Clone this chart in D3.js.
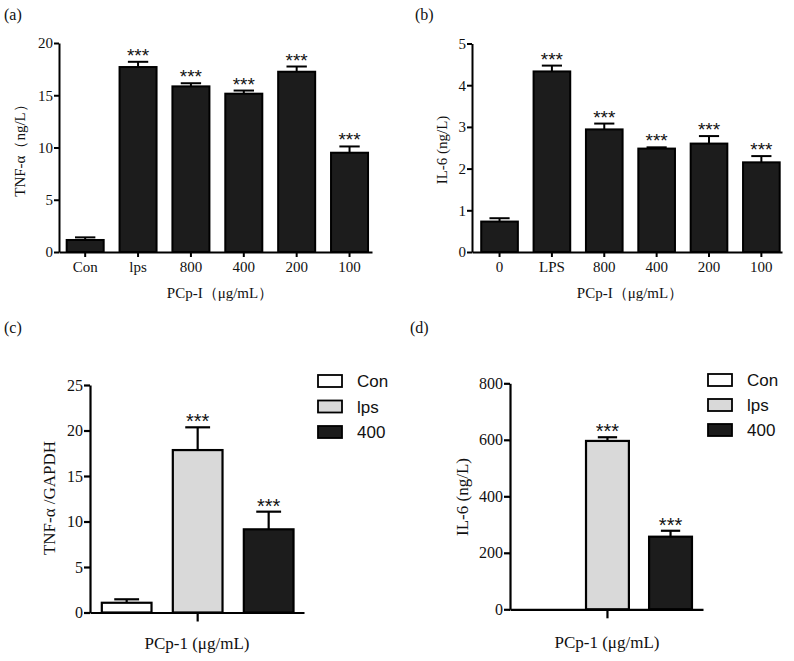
<!DOCTYPE html>
<html>
<head>
<meta charset="utf-8">
<script src="https://cdn.jsdelivr.net/npm/d3@7"></script>
<style>
  html, body { margin: 0; padding: 0; background: #fff; }
  svg { display: block; }
</style>
</head>
<body>
<svg id="chart" width="794" height="661"></svg>
<script>
// ---------- Data ----------
const catsA = ["Con", "lps", "800", "400", "200", "100"];
const valsA = [1.15, 17.7, 15.85, 15.15, 17.25, 9.5];
const errA  = [1.4, 18.2, 16.15, 15.45, 17.75, 10.1];
const sigA  = ["", "***", "***", "***", "***", "***"];
const ticksA = [0, 5, 10, 15, 20];

const catsB = ["0", "LPS", "800", "400", "200", "100"];
const valsB = [0.73, 4.33, 2.94, 2.48, 2.6, 2.15];
const errB  = [0.81, 4.47, 3.08, 2.51, 2.78, 2.3];
const sigB  = ["", "***", "***", "***", "***", "***"];
const ticksB = [0, 1, 2, 3, 4, 5];

const catsC = ["Con", "lps", "400"];
const valsC = [1.07, 17.85, 9.14];
const errC  = [1.45, 20.35, 11.08];
const sigC  = ["", "***", "***"];
const ticksC = [0, 5, 10, 15, 20, 25];

const catsD = ["Con", "lps", "400"];
const valsD = [0, 596, 257];
const errD  = [0, 609, 278];
const sigD  = ["", "***", "***"];
const ticksD = [0, 200, 400, 600, 800];

const legendFills = ["#ffffff", "#d9d9d9", "#1c1c1c"];

const SERIF = "'Liberation Serif', 'Times New Roman', Times, serif";
const SANS = "'Liberation Sans', Arial, Helvetica, sans-serif";

const svg = d3.select("#chart");

function panel(opts) {
  const g = svg.append("g");
  const x = d3.scaleBand().domain(opts.cats).range(opts.xr)
    .paddingInner(opts.pi).paddingOuter(opts.po).align(opts.align);
  const y = d3.scaleLinear().domain([0, opts.ymax]).range(opts.yr);
  const bw = x.bandwidth();

  // bars
  g.selectAll("rect.bar").data(opts.cats).join("rect")
    .attr("class", "bar")
    .attr("x", d => x(d))
    .attr("y", (d, i) => y(opts.vals[i]))
    .attr("width", bw)
    .attr("height", (d, i) => y(0) - y(opts.vals[i]))
    .attr("fill", (d, i) => opts.fills[i])
    .attr("stroke", "#000")
    .attr("stroke-width", opts.sw)
    .style("display", (d, i) => opts.vals[i] > 0 ? null : "none");

  // error bars (upper only)
  const eb = g.selectAll("g.err").data(opts.cats).join("g").attr("class", "err")
    .style("display", (d, i) => opts.errs[i] > opts.vals[i] ? null : "none");
  eb.append("line")
    .attr("x1", d => x(d) + bw / 2).attr("x2", d => x(d) + bw / 2)
    .attr("y1", (d, i) => y(opts.vals[i])).attr("y2", (d, i) => y(opts.errs[i]))
    .attr("stroke", "#000").attr("stroke-width", opts.sw);
  eb.append("line")
    .attr("x1", d => x(d) + bw / 2 - bw * opts.cap / 2)
    .attr("x2", d => x(d) + bw / 2 + bw * opts.cap / 2)
    .attr("y1", (d, i) => y(opts.errs[i])).attr("y2", (d, i) => y(opts.errs[i]))
    .attr("stroke", "#000").attr("stroke-width", opts.sw);

  // significance
  g.selectAll("text.sig").data(opts.cats).join("text")
    .attr("class", "sig")
    .attr("font-family", SANS)
    .attr("x", d => x(d) + bw / 2)
    .attr("y", (d, i) => y(opts.errs[i]) + opts.sigOff)
    .attr("text-anchor", "middle")
    .attr("font-size", opts.sigSize)
    .attr("fill", "#111")
    .text((d, i) => opts.sigs[i]);

  // y axis
  const ya = g.append("g")
    .attr("transform", `translate(${opts.xr[0]},0)`)
    .call(d3.axisLeft(y).tickValues(opts.ticks).tickFormat(d3.format("d"))
      .tickSize(opts.tickLen).tickSizeOuter(0).tickPadding(1));
  ya.attr("font-family", SERIF).attr("font-size", opts.fs);
  ya.select(".domain").attr("stroke-width", opts.sw);
  ya.selectAll(".tick line").attr("stroke-width", opts.sw);
  ya.selectAll(".tick text").attr("fill", "#111");

  // x axis
  let xa = d3.axisBottom(x).tickSize(opts.xTickLen).tickSizeOuter(0).tickPadding(4);
  if (opts.centerTick) {
    xa = xa.tickValues([opts.cats[Math.floor(opts.cats.length / 2)]]).tickFormat("");
  }
  const xg = g.append("g")
    .attr("transform", `translate(0,${y(0)})`)
    .call(xa);
  xg.attr("font-family", SERIF).attr("font-size", opts.fs);
  xg.select(".domain").attr("stroke-width", opts.sw);
  xg.selectAll(".tick line").attr("stroke-width", opts.sw);
  xg.selectAll(".tick text").attr("fill", "#111");

  // titles
  svg.append("text").attr("font-family", SERIF)
    .attr("x", opts.xt[0]).attr("y", opts.xt[1])
    .attr("text-anchor", "middle").attr("font-size", opts.tfs).attr("fill", "#111")
    .text(opts.xtitle);
  svg.append("text").attr("font-family", SERIF)
    .attr("transform", `translate(${opts.yt[0]},${opts.yt[1]}) rotate(-90)`)
    .attr("text-anchor", "middle").attr("font-size", opts.tfs).attr("fill", "#111")
    .text(opts.ytitle);
  svg.append("text").attr("font-family", SERIF)
    .attr("x", opts.lab[0]).attr("y", opts.lab[1])
    .attr("font-size", 16).attr("fill", "#111")
    .text(opts.label);

  // legend
  if (opts.legend) {
    const lg = svg.append("g");
    opts.cats.forEach((c, i) => {
      const cy = opts.legend.y + i * opts.legend.dy;
      lg.append("rect")
        .attr("x", opts.legend.x).attr("y", cy - 6)
        .attr("width", 24).attr("height", 12)
        .attr("fill", legendFills[i]).attr("stroke", "#000").attr("stroke-width", 1.8);
      lg.append("text").attr("font-family", SANS)
        .attr("x", opts.legend.x + 39).attr("y", cy + 6)
        .attr("font-size", 17).attr("fill", "#111")
        .text(c);
    });
  }
}

const dark = "#1c1c1c";

panel({
  cats: catsA, vals: valsA, errs: errA, sigs: sigA, ticks: ticksA, ymax: 20,
  xr: [59, 372], yr: [252, 43], pi: 0.3, po: 0.11, align: 0.66,
  fills: catsA.map(() => dark), sw: 2, cap: 0.55, sigOff: 0, sigSize: 19,
  tickLen: 5, xTickLen: 5, fs: 15, tfs: 15, centerTick: false,
  xtitle: "PCp-I（μg/mL）", xt: [220, 298],
  ytitle: "TNF-α（ng/L）", yt: [25, 147],
  label: "(a)", lab: [4, 20]
});

panel({
  cats: catsB, vals: valsB, errs: errB, sigs: sigB, ticks: ticksB, ymax: 5,
  xr: [472, 782], yr: [252, 43.5], pi: 0.3, po: 0.11, align: 0.8,
  fills: catsB.map(() => dark), sw: 2, cap: 0.55, sigOff: 0, sigSize: 19,
  tickLen: 5, xTickLen: 5, fs: 15, tfs: 15, centerTick: false,
  xtitle: "PCp-I（μg/mL）", xt: [630, 298],
  ytitle: "IL-6 (ng/L)", yt: [447, 150],
  label: "(b)", lab: [415, 20]
});

panel({
  cats: catsC, vals: valsC, errs: errC, sigs: sigC, ticks: ticksC, ymax: 25,
  xr: [90, 304], yr: [612.5, 385], pi: 0.3, po: 0.157, align: 0.53,
  fills: legendFills, sw: 2.2, cap: 0.5, sigOff: 1, sigSize: 20,
  tickLen: 6, xTickLen: 9, fs: 16, tfs: 17, centerTick: true,
  xtitle: "PCp-1 (μg/mL)", xt: [197, 649],
  ytitle: "TNF-α /GAPDH", yt: [55, 498],
  label: "(c)", lab: [4, 333],
  legend: { x: 318, y: 381, dy: 25.5 }
});

panel({
  cats: catsD, vals: valsD, errs: errD, sigs: sigD, ticks: ticksD, ymax: 800,
  xr: [510, 703], yr: [609.3, 383.3], pi: 0.32, po: 0.19, align: 0.54,
  fills: legendFills, sw: 2.2, cap: 0.45, sigOff: 1, sigSize: 20,
  tickLen: 6, xTickLen: 9, fs: 16, tfs: 17, centerTick: true,
  xtitle: "PCp-1 (μg/mL)", xt: [607, 648],
  ytitle: "IL-6 (ng/L)", yt: [468, 497],
  label: "(d)", lab: [410, 333],
  legend: { x: 708, y: 380, dy: 25 }
});
</script>
</body>
</html>
